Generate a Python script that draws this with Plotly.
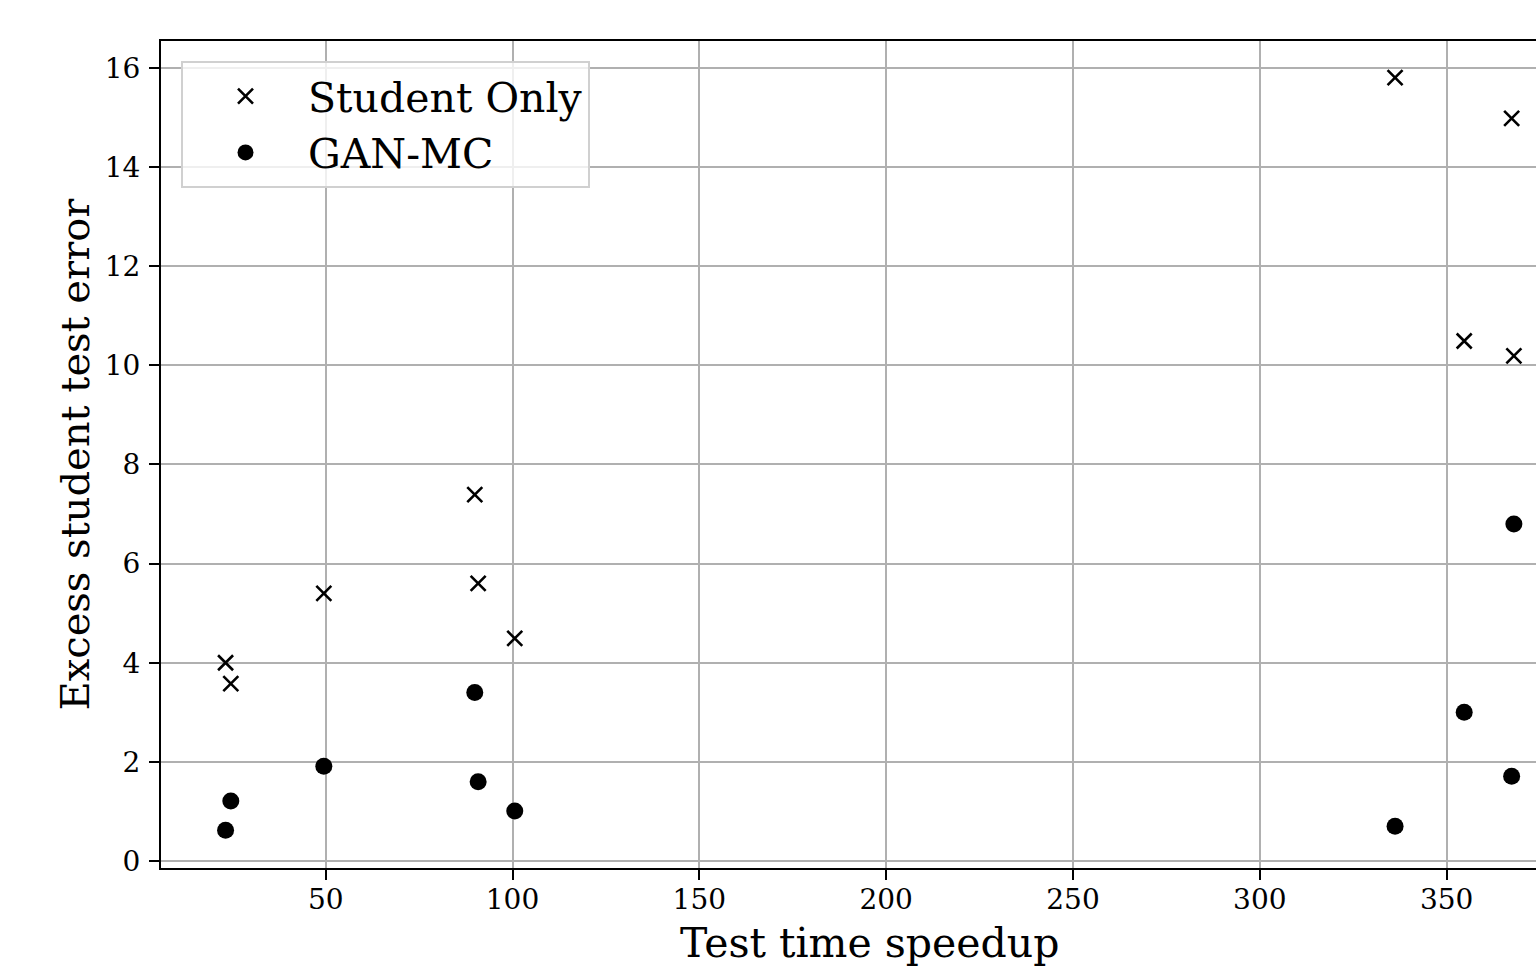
import plotly.graph_objects as go

# Data
student_x = [23.2, 24.6, 49.5, 89.9, 90.8, 100.6, 336.2, 354.7, 367.4, 368.0]
student_y = [4.00, 3.58, 5.40, 7.39, 5.60, 4.49, 15.80, 10.49, 14.98, 10.19]

gan_x = [23.2, 24.6, 49.5, 89.9, 90.8, 100.6, 336.2, 354.7, 367.4, 368.0]
gan_y = [0.62, 1.21, 1.91, 3.40, 1.60, 1.01, 0.70, 3.00, 1.71, 6.80]

x_ticks = [50, 100, 150, 200, 250, 300, 350]
y_ticks = [0, 2, 4, 6, 8, 10, 12, 14, 16]

FONT = "DejaVu Serif"
W, H = 1536, 969
ML, MT, MB = 161, 41, 101
plot_w = W - ML
plot_h = H - MT - MB
# full matplotlib axes would end beyond the viewport (~1578px)
full_right_px = 1578.3

fig = go.Figure()
fig.add_trace(go.Scatter(
    x=student_x, y=student_y, mode="markers", name="Student Only",
    marker=dict(symbol="x-thin", size=15, color="black",
                line=dict(width=2.6, color="black")),
))
fig.add_trace(go.Scatter(
    x=gan_x, y=gan_y, mode="markers", name="GAN-MC",
    marker=dict(symbol="circle", size=17, color="black", line=dict(width=0)),
))

x0, x1_full = 5.92, 385.24
x1 = x0 + (x1_full - x0) * plot_w / (full_right_px - ML)

axis_common = dict(
    showgrid=True, gridcolor="#b0b0b0", gridwidth=2.2,
    zeroline=False, showline=True, linecolor="black", linewidth=2.2,
    ticks="outside", ticklen=10, tickwidth=2.2, tickcolor="black",
    tickfont=dict(family=FONT, size=28, color="black"),
)

fig.update_layout(
    width=W, height=H,
    margin=dict(l=ML, r=0, t=MT, b=MB),
    paper_bgcolor="white", plot_bgcolor="white",
    font=dict(family=FONT, color="black"),
    xaxis=dict(range=[x0, x1], tickvals=x_ticks, mirror=True,
               ticklabelstandoff=-5, **axis_common),
    yaxis=dict(range=[-0.14, 16.54], tickvals=y_ticks, mirror=False,
               ticklabelstandoff=3,
               title=dict(text="Excess student test error",
                          font=dict(family=FONT, size=40, color="black"),
                          standoff=3),
               **axis_common),
    showlegend=True,
    legend=dict(
        x=(181 - ML) / plot_w, y=(868 - 61) / plot_h,
        xanchor="left", yanchor="top",
        bgcolor="rgba(255,255,255,0.8)", bordercolor="#d0d0d0", borderwidth=2,
        font=dict(family=FONT, size=41, color="black"),
        itemwidth=115, tracegroupgap=0,
    ),
    annotations=[dict(
        text="Test time speedup", xref="paper", yref="paper",
        x=(869.5 - ML) / plot_w, y=-(943 - 868) / plot_h,
        xanchor="center", yanchor="middle", showarrow=False,
        font=dict(family=FONT, size=41, color="black"),
    )],
)

fig.write_html("out.html")
